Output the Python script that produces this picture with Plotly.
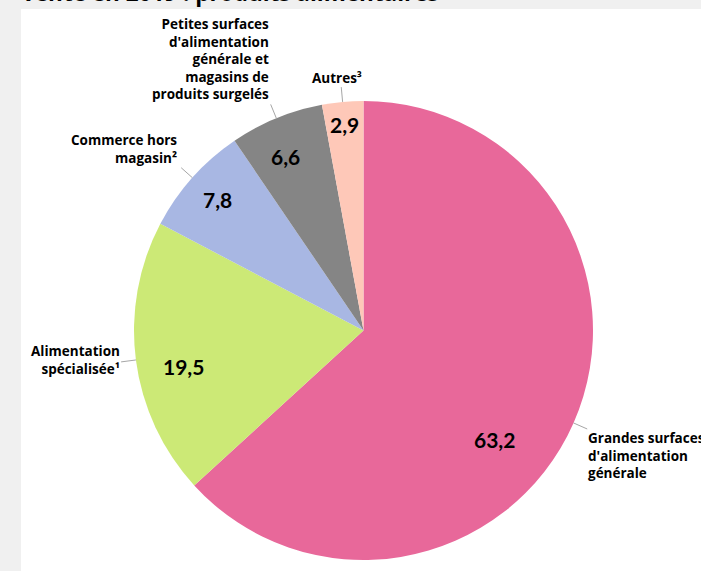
import math
import plotly.graph_objects as go

# Répartition des ventes de produits alimentaires par forme de vente (en %)
categories = [
    "Grandes surfaces<br>d'alimentation<br>générale",
    "Alimentation<br>spécialisée¹",
    "Commerce hors<br>magasin²",
    "Petites surfaces<br>d'alimentation<br>générale et<br>magasins de<br>produits surgelés",
    "Autres³",
]
values = [63.2, 19.5, 7.8, 6.6, 2.9]
colors = ["#E8689A", "#CCE976", "#A8B7E3", "#858585", "#FEC8B8"]

# Placement des étiquettes de valeur (fraction du rayon, décalage angulaire en degrés)
value_radius = [0.74, 0.80, 0.855, 0.83, 0.90]
value_angle_shift = [16.0, -3.8, 0.0, -2.0, 0.0]

# Placement des étiquettes de catégorie autour du camembert
label_xanchor = ["left", "right", "right", "right", "center"]
label_valign = ["top", "middle", "bottom", "bottom", "bottom"]
label_align = ["left", "right", "right", "right", "center"]
label_shift = [(-1, 1.5), (1, -1.4), (-2, -2.2), (0, -2.9), (-4, -0.6)]
LINE_H = 17

W, H = 701, 571
CX, CY, R = 363.5, 330.5, 229.5


def px(x):
    return x / W


def py(y):
    return 1 - y / H


fig = go.Figure()
fig.add_trace(go.Pie(
    values=values,
    labels=categories,
    marker=dict(colors=colors, line=dict(width=0)),
    sort=False,
    direction="clockwise",
    rotation=0,
    textinfo="none",
    hoverinfo="label+value",
    showlegend=False,
    domain=dict(x=[px(CX - R), px(CX + R)], y=[py(CY + R), py(CY - R)]),
))

total = sum(values)
annotations = []
shapes = [
    # panneau blanc du graphique
    dict(type="rect", xref="paper", yref="paper", x0=px(21), x1=1.0, y0=0.0, y1=py(9),
         fillcolor="white", line=dict(width=0), layer="below"),
]

start = 0.0
for i, v in enumerate(values):
    span = 360.0 * v / total
    mid = start + span / 2
    start += span

    # valeur dans la part
    a = math.radians(mid + value_angle_shift[i])
    vr = R * value_radius[i]
    annotations.append(dict(
        x=px(CX + vr * math.sin(a)), y=py(CY - vr * math.cos(a)),
        xref="paper", yref="paper", showarrow=False,
        text=f"<b>{v:.1f}</b>".replace(".", ","),
        font=dict(family="Lato", size=21, color="#000000"),
        xanchor="center", yanchor="middle",
    ))

    # trait de rappel
    m = math.radians(mid)
    x0, y0 = CX + R * math.sin(m), CY - R * math.cos(m)
    x1, y1 = CX + R * 1.065 * math.sin(m), CY - R * 1.065 * math.cos(m)
    shapes.append(dict(type="line", xref="paper", yref="paper",
                       x0=px(x0), y0=py(y0), x1=px(x1), y1=py(y1),
                       line=dict(color="#A6A6A6", width=1)))

    # libellé : bloc centré verticalement sur sa position
    dx, dy = label_shift[i]
    n = len(categories[i].split("<br>"))
    ax, ay = x1 + dx, y1 + dy
    if label_valign[i] == "top":
        center = ay + n * LINE_H / 2
    elif label_valign[i] == "bottom":
        center = ay - n * LINE_H / 2
    else:
        center = ay
    annotations.append(dict(
        x=px(ax), y=py(center), xref="paper", yref="paper",
        showarrow=False, text=f"<b>{categories[i]}</b>",
        font=dict(family="Open Sans", size=13.5, color="#000000"),
        xanchor=label_xanchor[i], yanchor="middle", align=label_align[i],
    ))

# titre (partiellement visible en haut)
annotations.append(dict(
    x=px(20), y=py(10), xref="paper", yref="paper", showarrow=False,
    text="<b>vente en 2019 : produits alimentaires</b>",
    font=dict(family="Open Sans", size=22.5, color="#000000"),
    xanchor="left", yanchor="bottom",
))

fig.update_layout(
    width=W, height=H, autosize=False,
    margin=dict(l=0, r=0, t=0, b=0),
    paper_bgcolor="#F0F0F0", plot_bgcolor="#F0F0F0",
    annotations=annotations, shapes=shapes,
)

fig.write_html("out.html")
